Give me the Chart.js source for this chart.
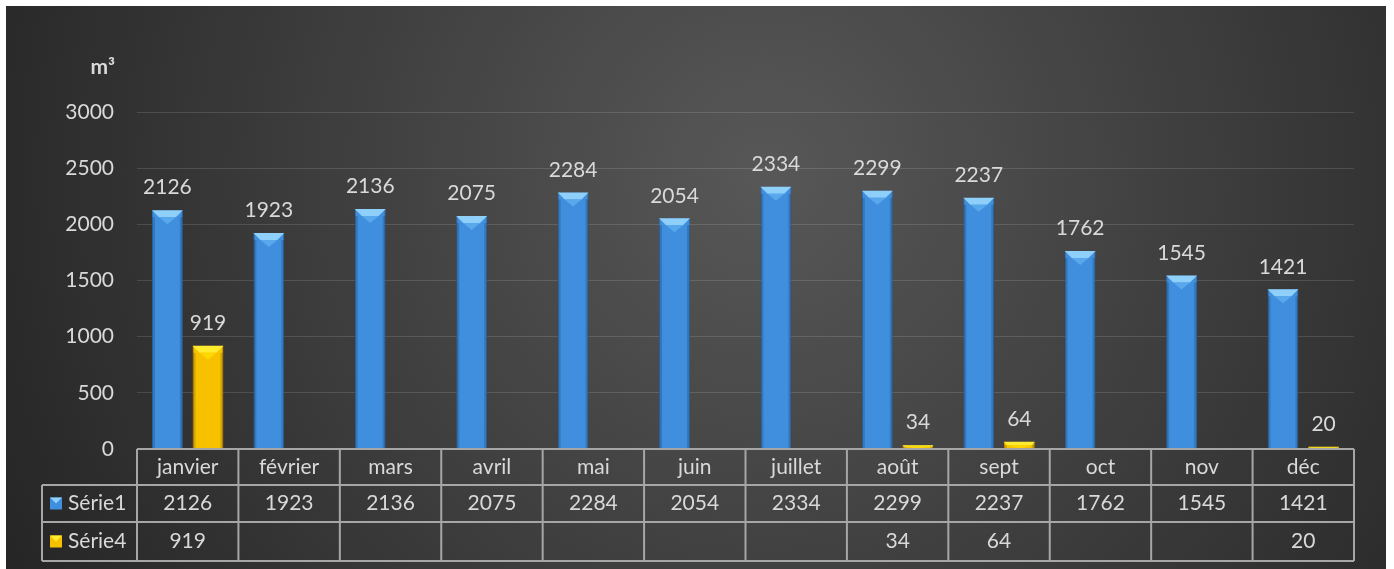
<!DOCTYPE html>
<html>
<head>
<meta charset="utf-8">
<script src="https://cdn.jsdelivr.net/npm/chart.js@4.4.0/dist/chart.umd.min.js"></script>
<style>
  body{margin:0;background:#fff;}
  #wrap{position:absolute;left:6px;top:6px;width:1380px;height:563px;}
</style>
</head>
<body>
<div id="wrap"><canvas id="graf"></canvas></div>
<script>
// donnees
const mois = ['janvier','février','mars','avril','mai','juin','juillet','août','sept','oct','nov','déc'];
const serie1 = [2126,1923,2136,2075,2284,2054,2334,2299,2237,1762,1545,1421];
const serie4 = [919,null,null,null,null,null,null,34,64,null,null,20];
const ticksY = [0,500,1000,1500,2000,2500,3000];
const unite = 'm³';

const police = 'Lato, "Open Sans", sans-serif';
const gris = '#d9d9d9';

// fond degrade
const fond = {
  id:'fond',
  beforeDraw(chart){
    const c = chart.ctx, w = chart.width, h = chart.height;
    const g = c.createRadialGradient(w*0.55, h*0.3, 10, w*0.55, h*0.3, w*0.62);
    g.addColorStop(0,'#575757');
    g.addColorStop(1,'#252525');
    c.save();
    c.fillStyle = g;
    c.fillRect(0,0,w,h);
    // unite
    c.fillStyle = gris;
    c.font = 'bold 21px ' + police;
    c.textAlign = 'right';
    c.textBaseline = 'middle';
    c.fillText(unite, chart.chartArea.left - 22, 61);
    c.restore();
  }
};

// biseau + etiquettes
const etiquettes = {
  id:'etiquettes',
  afterDatasetsDraw(chart){
    const c = chart.ctx;
    c.save();
    chart.data.datasets.forEach(function(ds, di){
      const meta = chart.getDatasetMeta(di);
      meta.data.forEach(function(bar, i){
        const v = ds.data[i];
        if(v === null) return;
        const l = bar.x - bar.width/2, r = bar.x + bar.width/2;
        const b = Math.min(7, (bar.base - bar.y)/2);
        // biseau du haut
        c.fillStyle = ds.biseau;
        c.beginPath();
        c.moveTo(l, bar.y);
        c.lineTo(r, bar.y);
        c.lineTo(r - b, bar.y + b);
        c.lineTo(l + b, bar.y + b);
        c.closePath();
        c.fill();
        c.fillStyle = ds.pointe;
        c.beginPath();
        c.moveTo(l + b, bar.y + b);
        c.lineTo(r - b, bar.y + b);
        c.lineTo(bar.x, bar.y + 2*b);
        c.closePath();
        c.fill();
        // cotes sombres
        c.fillStyle = 'rgba(0,0,0,0.15)';
        c.fillRect(l, bar.y + b, 3, bar.base - bar.y - b);
        c.fillRect(r - 3, bar.y + b, 3, bar.base - bar.y - b);
        // valeur
        c.fillStyle = gris;
        c.font = '21px ' + police;
        c.textAlign = 'center';
        c.textBaseline = 'bottom';
        c.fillText(String(v), bar.x, bar.y - 12);
      });
    });
    c.restore();
  }
};

// table de donnees sous le graphique
const table = {
  id:'table',
  afterDraw(chart){
    const c = chart.ctx, x = chart.scales.x, area = chart.chartArea;
    const n = mois.length;
    const cw = (area.right - area.left) / n;
    const rows = [area.bottom, area.bottom + 36, area.bottom + 73, area.bottom + 112];
    const gauche = 36;
    c.save();
    c.strokeStyle = '#a6a6a6';
    c.lineWidth = 2;
    // lignes horizontales
    c.beginPath();
    c.moveTo(area.left, rows[0]); c.lineTo(area.right, rows[0]);
    for(let k = 1; k < 4; k++){ c.moveTo(gauche, rows[k]); c.lineTo(area.right, rows[k]); }
    // verticales
    c.moveTo(gauche, rows[1]); c.lineTo(gauche, rows[3]);
    for(let i = 0; i <= n; i++){
      const px = area.left + i*cw;
      c.moveTo(px, rows[0]); c.lineTo(px, rows[3]);
    }
    c.stroke();

    c.font = '21px ' + police;
    c.fillStyle = gris;
    c.textAlign = 'center';
    c.textBaseline = 'middle';
    mois.forEach(function(m, i){
      const cx = x.getPixelForValue(i);
      c.fillText(m, cx, (rows[0]+rows[1])/2);
      c.fillText(String(serie1[i]), cx, (rows[1]+rows[2])/2);
      if(serie4[i] !== null) c.fillText(String(serie4[i]), cx, (rows[2]+rows[3])/2);
    });

    // legende
    chart.data.datasets.forEach(function(ds, di){
      const cy = (rows[1+di] + rows[2+di]) / 2;
      c.fillStyle = ds.backgroundColor;
      c.fillRect(gauche + 8, cy - 6, 12, 12);
      c.fillStyle = ds.biseau;
      c.beginPath();
      c.moveTo(gauche + 8, cy - 6); c.lineTo(gauche + 20, cy - 6); c.lineTo(gauche + 14, cy); c.closePath();
      c.fill();
      c.fillStyle = gris;
      c.textAlign = 'left';
      c.fillText(ds.label, gauche + 26, cy);
    });
    c.restore();
  }
};

new Chart(document.getElementById('graf'), {
  type:'bar',
  data:{
    labels: mois,
    datasets:[{
      label:'Série1',
      data: serie1,
      backgroundColor:'#3f8fde',
      borderColor:'#2f72bd',
      borderWidth:1,
      biseau:'#8fd0fa',
      pointe:'#5aa8ec',
      barPercentage:0.76,
      categoryPercentage:0.8
    },{
      label:'Série4',
      data: serie4,
      backgroundColor:'#f7c100',
      borderColor:'#d9a300',
      borderWidth:1,
      biseau:'#ffec30',
      pointe:'#ffd600',
      barPercentage:0.76,
      categoryPercentage:0.8
    }]
  },
  options:{
    responsive:true,
    maintainAspectRatio:false,
    animation:false,
    layout:{ padding:{ top:106, right:32, bottom:120, left:0 } },
    plugins:{ legend:{display:false}, tooltip:{enabled:false} },
    scales:{
      x:{ display:false },
      y:{
        min:0, max:3000,
        afterFit(scale){ scale.width = 131; },
        afterBuildTicks(scale){ scale.ticks = ticksY.map(function(v){ return {value:v}; }); },
        border:{ display:false },
        grid:{ color:'rgba(255,255,255,0.13)', drawTicks:false },
        ticks:{ color:gris, padding:23, font:{ size:21, family:police }, callback:function(v){ return String(v); } }
      }
    }
  },
  plugins:[fond, etiquettes, table]
});
</script>
</body>
</html>
